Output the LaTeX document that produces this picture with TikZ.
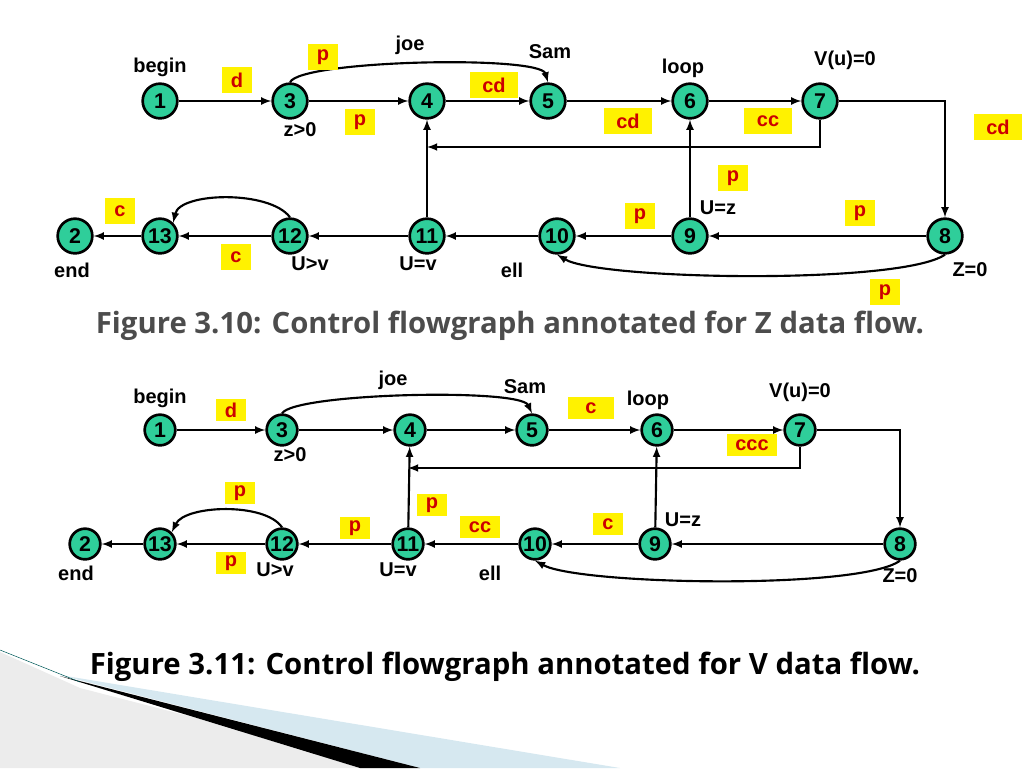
\documentclass[tikz,border=0pt]{standalone}
\usepackage{fontspec}
\setmainfont{Liberation Sans}
\newfontfamily\capfont{Open Sans}
\definecolor{lblue}{HTML}{D6E8F0}
\definecolor{ndfill}{HTML}{2FCE9A}
\begin{document}
\begin{tikzpicture}[x=0.75pt,y=-0.75pt,>=latex,
 nd/.style={circle,draw=black,line width=2pt,fill=ndfill,minimum size=#1,inner sep=0pt,font=\bfseries\fontsize{16}{16}\selectfont},
 nd/.default=26pt,
 lb/.style={font=\bfseries\fontsize{15}{15}\selectfont},
 yb/.style={fill=yellow,text=red!80!black,font=\bfseries\fontsize{15}{15}\selectfont,inner sep=2.5pt,minimum height=20pt,minimum width=22pt},
 ed/.style={->,line width=1.6pt},
 figcap/.style={font=\capfont\bfseries\fontsize{22}{22}\selectfont}]
\useasboundingbox (0,0) rectangle (1024,768);
% decoration
\fill[gray!15] (0,652) -- (80,688) -- (390,768) -- (0,768) -- cycle;
\fill[lblue] (60,675) -- (620,768) -- (420,768) -- cycle;
\fill[black] (60,676) -- (420,768) -- (360,768) -- cycle;
\draw[teal!70!black,thin] (0,650) -- (80,682);
% ---------- top diagram
\foreach \n/\x/\y in {1/160/101,3/290/101,4/427/101,5/548/101,6/690/101,7/820/101,8/945/236,9/690/236,10/557/236,11/427/236,12/290/236,13/160/236,2/75/236}
  \node[nd] (a\n) at (\x,\y) {\n};
\draw[ed] (a1)--(a3); \draw[ed] (a3)--(a4); \draw[ed] (a4)--(a5); \draw[ed] (a5)--(a6); \draw[ed] (a6)--(a7);
\draw[ed] (a3.north) .. controls (300,60) and (540,55) .. (a5.north);
\draw[ed] (a7.east) -| (a8.north);
\draw[ed] (a7.south) |- (427,147);
\draw[ed] (a11)--(a4);
\draw[ed] (a9)--(a6);
\draw[ed] (a8)--(a9); \draw[ed] (a9)--(a10); \draw[ed] (a10)--(a11); \draw[ed] (a11)--(a12); \draw[ed] (a12)--(a13); \draw[ed] (a13)--(a2);
\draw[ed] (a12.north) .. controls (270,190) and (180,192) .. (a13.north east);
\draw[ed] (a8.south) .. controls (900,285) and (600,280) .. (a10.south);
\node[lb] (t1) at (160,67) {begin};
\node[lb] (t2) at (300,130) {z>0};
\node[lb] (t3) at (410,45) {joe};
\node[lb] (t4) at (550,52) {Sam};
\node[lb] (t5) at (683,68) {loop};
\node[lb] (t6) at (845,60) {V(u)=0};
\node[lb] (t7) at (718,208) {U=z};
\node[lb] (t8) at (72,270) {end};
\node[lb] (t9) at (310,264) {U>v};
\node[lb] (t10) at (418,264) {U=v};
\node[lb] (t11) at (512,270) {ell};
\node[lb] (t12) at (970,270) {Z=0};
\node[yb] (b1) at (237,80) {d};
\node[yb] (b2) at (323,57) {p};
\node[yb] (b3) at (360,122) {p};
\node[yb,minimum width=36pt] (b4) at (494,85) {cd};
\node[yb,minimum width=36pt] (b5) at (628,121) {cd};
\node[yb,minimum width=36pt] (b6) at (768,121) {cc};
\node[yb,minimum width=36pt] (b7) at (998,127) {cd};
\node[yb] (b8) at (733,178) {p};
\node[yb] (b9) at (640,216) {p};
\node[yb] (b10) at (860,213) {p};
\node[yb] (b11) at (885,292) {p};
\node[yb] (b12) at (120,211) {c};
\node[yb] (b13) at (236,257) {c};
\node[figcap,text=black!70] (c1) at (510,326) {Figure 3.10: Control flowgraph annotated for Z data flow.};
% ---------- bottom diagram
\foreach \n/\x/\y in {1/160/430,3/282/430,4/410/430,5/532/430,6/657/430,7/800/430,8/900/544,9/655/544,10/535/544,11/408/544,12/282/544,13/160/544,2/85/544}
  \node[nd=23pt] (b\n) at (\x,\y) {\n};
\draw[ed] (b1)--(b3); \draw[ed] (b3)--(b4); \draw[ed] (b4)--(b5); \draw[ed] (b5)--(b6); \draw[ed] (b6)--(b7);
\draw[ed] (b3.north) .. controls (295,393) and (520,388) .. (b5.north);
\draw[ed] (b7.east) -| (b8.north);
\draw[ed] (b7.south) |- (408,468);
\draw[ed] (b11)--(b4);
\draw[ed] (b9)--(b6);
\draw[ed] (b8)--(b9); \draw[ed] (b9)--(b10); \draw[ed] (b10)--(b11); \draw[ed] (b11)--(b12); \draw[ed] (b12)--(b13); \draw[ed] (b13)--(b2);
\draw[ed] (b12.north) .. controls (265,502) and (185,505) .. (b13.north east);
\draw[ed] (b8.south) .. controls (860,590) and (580,585) .. (b10.south);
\node[lb] (s1) at (160,398) {begin};
\node[lb] (s2) at (290,455) {z>0};
\node[lb] (s3) at (393,380) {joe};
\node[lb] (s4) at (525,387) {Sam};
\node[lb] (s5) at (648,400) {loop};
\node[lb] (s6) at (800,392) {V(u)=0};
\node[lb] (s7) at (683,520) {U=z};
\node[lb] (s8) at (76,573) {end};
\node[lb] (s9) at (275,570) {U>v};
\node[lb] (s10) at (398,570) {U=v};
\node[lb] (s11) at (490,573) {ell};
\node[lb] (s12) at (900,576) {Z=0};
\node[yb,minimum height=17pt] (y1) at (231,410) {d};
\node[yb,minimum width=34pt,minimum height=17pt] (y2) at (591,408) {c};
\node[yb,minimum width=38pt,minimum height=17pt] (y3) at (752,445) {ccc};
\node[yb,minimum height=17pt] (y4) at (240,493) {p};
\node[yb,minimum height=17pt] (y5) at (432,505) {p};
\node[yb,minimum height=17pt] (y6) at (355,528) {p};
\node[yb,minimum width=30pt,minimum height=17pt] (y7) at (480,527) {cc};
\node[yb,minimum height=17pt] (y8) at (608,524) {c};
\node[yb,minimum height=17pt] (y9) at (231,563) {p};
\node[figcap] (c2) at (505,667) {Figure 3.11: Control flowgraph annotated for V data flow.};
\end{tikzpicture}
\end{document}
